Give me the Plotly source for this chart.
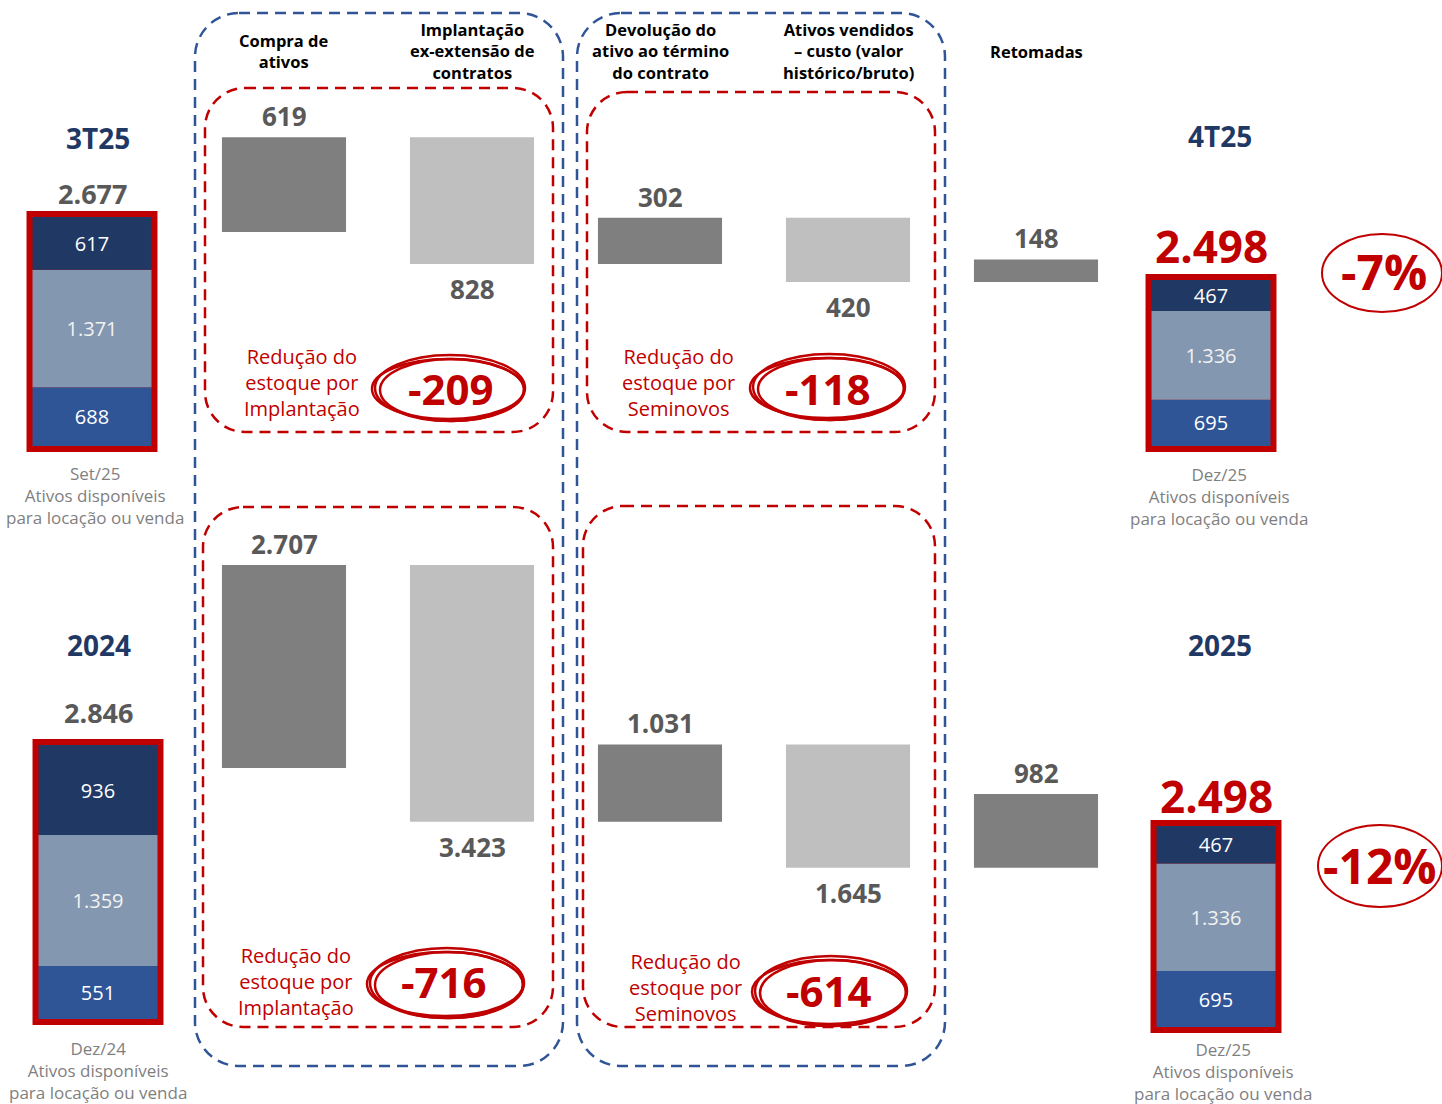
import plotly.graph_objects as go

W, H = 1442, 1104
FONT = "Open Sans"
RED = "#C00000"
NAVY = "#1F3864"
GRAY_TXT = "#595959"
SUB_TXT = "#7F7F7F"
DARK_BAR = "#7F7F7F"
LIGHT_BAR = "#BFBFBF"
SEG_COLORS = ["#2F5597", "#8497B0", "#203864"]   # bottom -> top
BLUE_BOX = "#2F5597"

# ---------------- data ----------------
categories = [
    "Compra de<br>ativos",
    "Implantação<br>ex-extensão de<br>contratos",
    "Devolução do<br>ativo ao término<br>do contrato",
    "Ativos vendidos<br>– custo (valor<br>histórico/bruto)",
    "Retomadas",
]
quarter_changes = [619, -828, 302, -420, 148]
year_changes = [2707, -3423, 1031, -1645, 982]

q_start_parts = [688, 1371, 617]     # bottom -> top
q_start_total = 2677
q_end_parts = [695, 1336, 467]
q_end_total = 2498

y_start_parts = [551, 1359, 936]
y_start_total = 2846
y_end_parts = [695, 1336, 467]
y_end_total = 2498

row_titles = [("3T25", "4T25"), ("2024", "2025")]
start_dates = ["Set/25", "Dez/24"]
end_dates = ["Dez/25", "Dez/25"]
subtitle = "Ativos disponíveis<br>para locação ou venda"
reduction_texts = ["Redução do<br>estoque por<br>Implantação", "Redução do<br>estoque por<br>Seminovos"]


def fmt(v):
    return f"{abs(v):,}".replace(",", ".")


def px(x):
    return x / W


def py(y):
    return 1 - y / H


def yrange(dom_top, dom_bot, v_ref, px_ref, k):
    return [v_ref - (dom_bot - px_ref) / k, v_ref + (px_ref - dom_top) / k]


fig = go.Figure()
layout_axes = {}
annotations = []
shapes = []

TOTAL_BW = 0.793
MID_BW = 0.66


def ann(**kw):
    d = dict(showarrow=False, xanchor="center", yanchor="middle")
    d.update(kw)
    annotations.append(d)


def add_axes(n, xdom_px, ydom_px, xrange, yr):
    xa = "xaxis" if n == 1 else f"xaxis{n}"
    ya = "yaxis" if n == 1 else f"yaxis{n}"
    layout_axes[xa] = dict(domain=[px(xdom_px[0]), px(xdom_px[1])], range=xrange,
                           visible=False, anchor=f"y{n}" if n > 1 else "y", fixedrange=True)
    layout_axes[ya] = dict(domain=[py(ydom_px[1]), py(ydom_px[0])], range=yr,
                           visible=False, anchor=f"x{n}" if n > 1 else "x", fixedrange=True)
    return ("x" if n == 1 else f"x{n}"), ("y" if n == 1 else f"y{n}")


def add_total(n, center_px, ydom, parts, total, zero_px, top_px, label_color, label_size, label_shift):
    k = (zero_px - top_px) / total
    xr, yr_ = add_axes(n, (center_px - 75, center_px + 75), ydom, [-0.5, 0.5],
                       yrange(ydom[0], ydom[1], 0, zero_px, k))
    fig.add_trace(go.Bar(x=[0], y=[total], base=[0], width=[TOTAL_BW],
                         marker=dict(color=RED, line=dict(color=RED, width=12)),
                         xaxis=xr, yaxis=yr_, hoverinfo="skip", showlegend=False))
    cum = 0
    for i, p in enumerate(parts):
        fig.add_trace(go.Bar(x=[0], y=[p], base=[cum], width=[TOTAL_BW],
                             marker=dict(color=SEG_COLORS[i], line=dict(width=0)),
                             text=[fmt(p)], textposition="inside", insidetextanchor="middle",
                             textangle=0, constraintext="none",
                             insidetextfont=dict(family=FONT, size=20,
                                                 color="#F2F2F2" if i == 1 else "white"),
                             xaxis=xr, yaxis=yr_, hoverinfo="skip", showlegend=False))
        cum += p
    ann(x=0, y=total, xref=xr, yref=yr_, text=f"<b>{fmt(total)}</b>", yshift=label_shift,
        font=dict(family=FONT, size=label_size, color=label_color))


def add_waterfall(n, ydom, changes, start_total, start_px, k):
    xr, yr_ = add_axes(n, (190, 1130), ydom, [-0.5, 4.5],
                       yrange(ydom[0], ydom[1], start_total, start_px, k))
    bases = []
    level = start_total
    for c in changes:
        bases.append(level)
        level += c
    fig.add_trace(go.Bar(x=list(range(len(changes))), y=changes, base=bases, width=MID_BW,
                         marker=dict(color=[DARK_BAR if c > 0 else LIGHT_BAR for c in changes],
                                     line=dict(width=0)),
                         xaxis=xr, yaxis=yr_, hoverinfo="skip", showlegend=False))
    for i, (b, c) in enumerate(zip(bases, changes)):
        ann(x=i, y=b + c, xref=xr, yref=yr_, text=f"<b>{fmt(c)}</b>",
            yshift=21 if c > 0 else -25,
            font=dict(family=FONT, size=26, color=GRAY_TXT))
    return xr


# ---------------- top row (quarter) ----------------
TOP_DOM = (95, 470)
add_total(1, 92, TOP_DOM, q_start_parts, q_start_total, 446, 217, GRAY_TXT, 27, 24)
xmid = add_waterfall(2, TOP_DOM, quarter_changes, q_start_total, 232, 0.153)
add_total(3, 1211, TOP_DOM, q_end_parts, q_end_total, 446, 280, RED, 44, 34)

# ---------------- bottom row (year) ----------------
BOT_DOM = (480, 1050)
add_total(4, 98, BOT_DOM, y_start_parts, y_start_total, 1019, 745, GRAY_TXT, 27, 33)
add_waterfall(5, BOT_DOM, year_changes, y_start_total, 768, 0.075)
add_total(6, 1216, BOT_DOM, y_end_parts, y_end_total, 1027, 826, RED, 44, 30)

# ---------------- column headers ----------------
for i, cat in enumerate(categories):
    bold = "<br>".join(f"<b>{ln}</b>" for ln in cat.split("<br>"))
    ann(x=i, y=py(51), xref=xmid, yref="paper", text=bold,
        font=dict(family=FONT, size=16.5, color="black"))

# ---------------- titles & subtitles ----------------
title_pos = [((98, 138), (1220, 136)), ((99, 645), (1220, 645))]
for r in range(2):
    for c in range(2):
        (tx, ty) = title_pos[r][c]
        ann(x=px(tx), y=py(ty), xref="paper", yref="paper",
            text=f"<b>{row_titles[r][c]}</b>",
            font=dict(family=FONT, size=28, color=NAVY))

sub_pos = [((95, 495), (1219, 497)), ((98, 1070), (1223, 1071))]
for r in range(2):
    for c, d in enumerate([start_dates[r], end_dates[r]]):
        (sx, sy) = sub_pos[r][c]
        ann(x=px(sx), y=py(sy), xref="paper", yref="paper",
            text=f"{d}<br>{subtitle}",
            font=dict(family=FONT, size=17, color=SUB_TXT))

# ---------------- reductions ----------------
nets = [
    (quarter_changes[0] + quarter_changes[1], (302, 382), (451, 389), (450, 388, 75, 33), 0),
    (quarter_changes[2] + quarter_changes[3], (678, 382), (828, 388), (829, 387, 76, 33), 1),
    (year_changes[0] + year_changes[1], (296, 981), (444, 981), (447, 983, 77, 35), 0),
    (year_changes[2] + year_changes[3], (685, 987), (829, 990), (831, 991, 76, 35), 1),
]
for val, (dx, dy), (nx, ny), (cx, cy, rx, ry), t in nets:
    ann(x=px(dx), y=py(dy), xref="paper", yref="paper", text=reduction_texts[t],
        font=dict(family=FONT, size=20, color=RED))
    ann(x=px(nx), y=py(ny), xref="paper", yref="paper", text=f"<b>-{fmt(val)}</b>",
        font=dict(family=FONT, size=42, color=RED))
    for (ox, oy, drx, dry) in [(0, 0, 0, 0), (2, 2, -3, -2), (-2, 1, 1, -3)]:
        shapes.append(dict(type="circle", xref="paper", yref="paper",
                           x0=px(cx + ox - rx - drx), x1=px(cx + ox + rx + drx),
                           y0=py(cy + oy + ry + dry), y1=py(cy + oy - ry - dry),
                           line=dict(color=RED, width=2.5)))

# percent changes
pcts = [
    (round((q_end_total / q_start_total - 1) * 100), (1384, 271), (1382, 273, 60, 39)),
    (round((y_end_total / y_start_total - 1) * 100), (1380, 865), (1380, 866, 62, 41)),
]
for p, (tx, ty), (cx, cy, rx, ry) in pcts:
    ann(x=px(tx), y=py(ty), xref="paper", yref="paper", text=f"<b>{p}%</b>",
        font=dict(family=FONT, size=48, color=RED))
    shapes.append(dict(type="circle", xref="paper", yref="paper",
                       x0=px(cx - rx), x1=px(cx + rx), y0=py(cy + ry), y1=py(cy - ry),
                       line=dict(color=RED, width=2)))


# ---------------- dashed rounded boxes ----------------
def rrect(x0, y0, x1, y1, r):
    kk = 0.5523 * r
    P = lambda x, y: f"{px(x):.5f},{py(y):.5f}"
    return (f"M {P(x0 + r, y0)} L {P(x1 - r, y0)} "
            f"C {P(x1 - r + kk, y0)} {P(x1, y0 + r - kk)} {P(x1, y0 + r)} "
            f"L {P(x1, y1 - r)} "
            f"C {P(x1, y1 - r + kk)} {P(x1 - r + kk, y1)} {P(x1 - r, y1)} "
            f"L {P(x0 + r, y1)} "
            f"C {P(x0 + r - kk, y1)} {P(x0, y1 - r + kk)} {P(x0, y1 - r)} "
            f"L {P(x0, y0 + r)} "
            f"C {P(x0, y0 + r - kk)} {P(x0 + r - kk, y0)} {P(x0 + r, y0)} Z")


for (x0, y0, x1, y1) in [(195, 13, 563, 1066), (577, 13, 945, 1066)]:
    shapes.append(dict(type="path", xref="paper", yref="paper", path=rrect(x0, y0, x1, y1, 44),
                       line=dict(color=BLUE_BOX, width=2.5, dash="11px,7px"), layer="below"))
for (x0, y0, x1, y1) in [(205, 88, 553, 432), (587, 92, 935, 432),
                         (203, 507, 553, 1027), (583, 506, 935, 1027)]:
    shapes.append(dict(type="path", xref="paper", yref="paper", path=rrect(x0, y0, x1, y1, 40),
                       line=dict(color=RED, width=2.5, dash="11px,7px"), layer="below"))

fig.update_layout(
    width=W, height=H,
    margin=dict(l=0, r=0, t=0, b=0),
    paper_bgcolor="white", plot_bgcolor="rgba(0,0,0,0)",
    barmode="overlay", showlegend=False,
    annotations=annotations, shapes=shapes,
    font=dict(family=FONT),
    **layout_axes,
)

fig.write_html("out.html", config={"displayModeBar": False},
               post_script="document.body.style.margin='0';document.body.style.overflow='hidden';")
